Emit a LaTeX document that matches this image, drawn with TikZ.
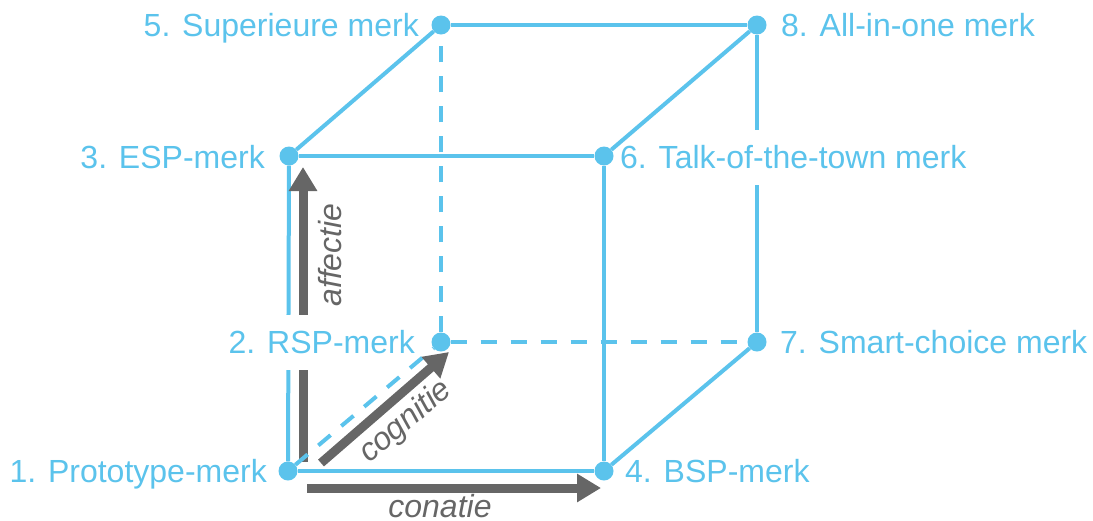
\documentclass[tikz,border=0pt]{standalone}
\usepackage{fontspec}
\setmainfont{Liberation Sans}
\usetikzlibrary{arrows.meta}
\definecolor{cubeblue}{RGB}{91,195,236}
\definecolor{arrgray}{RGB}{102,102,102}
\begin{document}
\begin{tikzpicture}[x=1pt,y=-1pt,
  dot/.style={circle,fill=cubeblue,inner sep=0pt,minimum size=19pt},
  edge/.style={draw=cubeblue,line width=4pt},
  hidden/.style={edge,dash pattern=on 16pt off 14pt},
  lbl/.style={text=cubeblue,fill=white,font=\fontsize{32}{36}\selectfont,inner xsep=2pt,inner ysep=16pt,text height=23pt,text depth=0pt},
  bigarrow/.style={draw=arrgray,line width=9pt,-{Triangle[length=24pt,width=27pt]}},
  arrlbl/.style={text=arrgray,font=\fontsize{32}{36}\selectfont\itshape,inner sep=0pt}
]
\useasboundingbox (0,0) rectangle (1093,520);

% corner dots
\node[dot] (n1) at (288,471) {};
\node[dot] (n2) at (441,342) {};
\node[dot] (n3) at (289,156) {};
\node[dot] (n4) at (604,471) {};
\node[dot] (n5) at (441,25) {};
\node[dot] (n6) at (604,156) {};
\node[dot] (n7) at (757,342) {};
\node[dot] (n8) at (757,25) {};

% lines that are interrupted by labels
\draw[edge] (n1) -- (n3);
\draw[edge] (n7) -- (n8);
\coordinate (af0) at (303,462);
\coordinate (af1) at (303,167);
\draw[bigarrow] (af0) -- (af1);

% labels
\node[lbl,anchor=east] (l5) at (421,25) {5. Superieure merk};
\node[lbl,anchor=west] (l8) at (779,25) {8. All-in-one merk};
\node[lbl,anchor=east] (l3) at (267,157) {3. ESP-merk};
\node[lbl,anchor=west] (l6) at (618,157) {6. Talk-of-the-town merk};
\node[lbl,anchor=east] (l2) at (417,342) {2. RSP-merk};
\node[lbl,anchor=west] (l7) at (778,342) {7. Smart-choice merk};
\node[lbl,anchor=east] (l1) at (269,471) {1. Prototype-merk};
\node[lbl,anchor=west] (l4) at (623,471) {4. BSP-merk};

% visible edges
\draw[edge] (n1) -- (n4);
\draw[edge] (n3) -- (n5);
\draw[edge] (n3) -- (n6);
\draw[edge] (n5) -- (n8);
\draw[edge] (n6) -- (n8);
\draw[edge] (n6) -- (n4);
\draw[edge] (n4) -- (n7);

% hidden edges
\draw[hidden] (n1) -- (n2);
\draw[hidden] (n2) -- (n5);
\draw[hidden] (n2) -- (n7);

% other arrows
\coordinate (cg0) at (321,463);
\coordinate (cg1) at (449,352);
\draw[bigarrow] (cg0) -- (cg1);
\coordinate (cn0) at (307,488);
\coordinate (cn1) at (601,488);
\draw[bigarrow] (cn0) -- (cn1);

% arrow labels
\node[arrlbl,rotate=90] (taf) at (330,255) {affectie};
\node[arrlbl,rotate=40] (tcg) at (406,422) {cognitie};
\node[arrlbl] (tcn) at (440,506) {conatie};
\end{tikzpicture}
\end{document}
